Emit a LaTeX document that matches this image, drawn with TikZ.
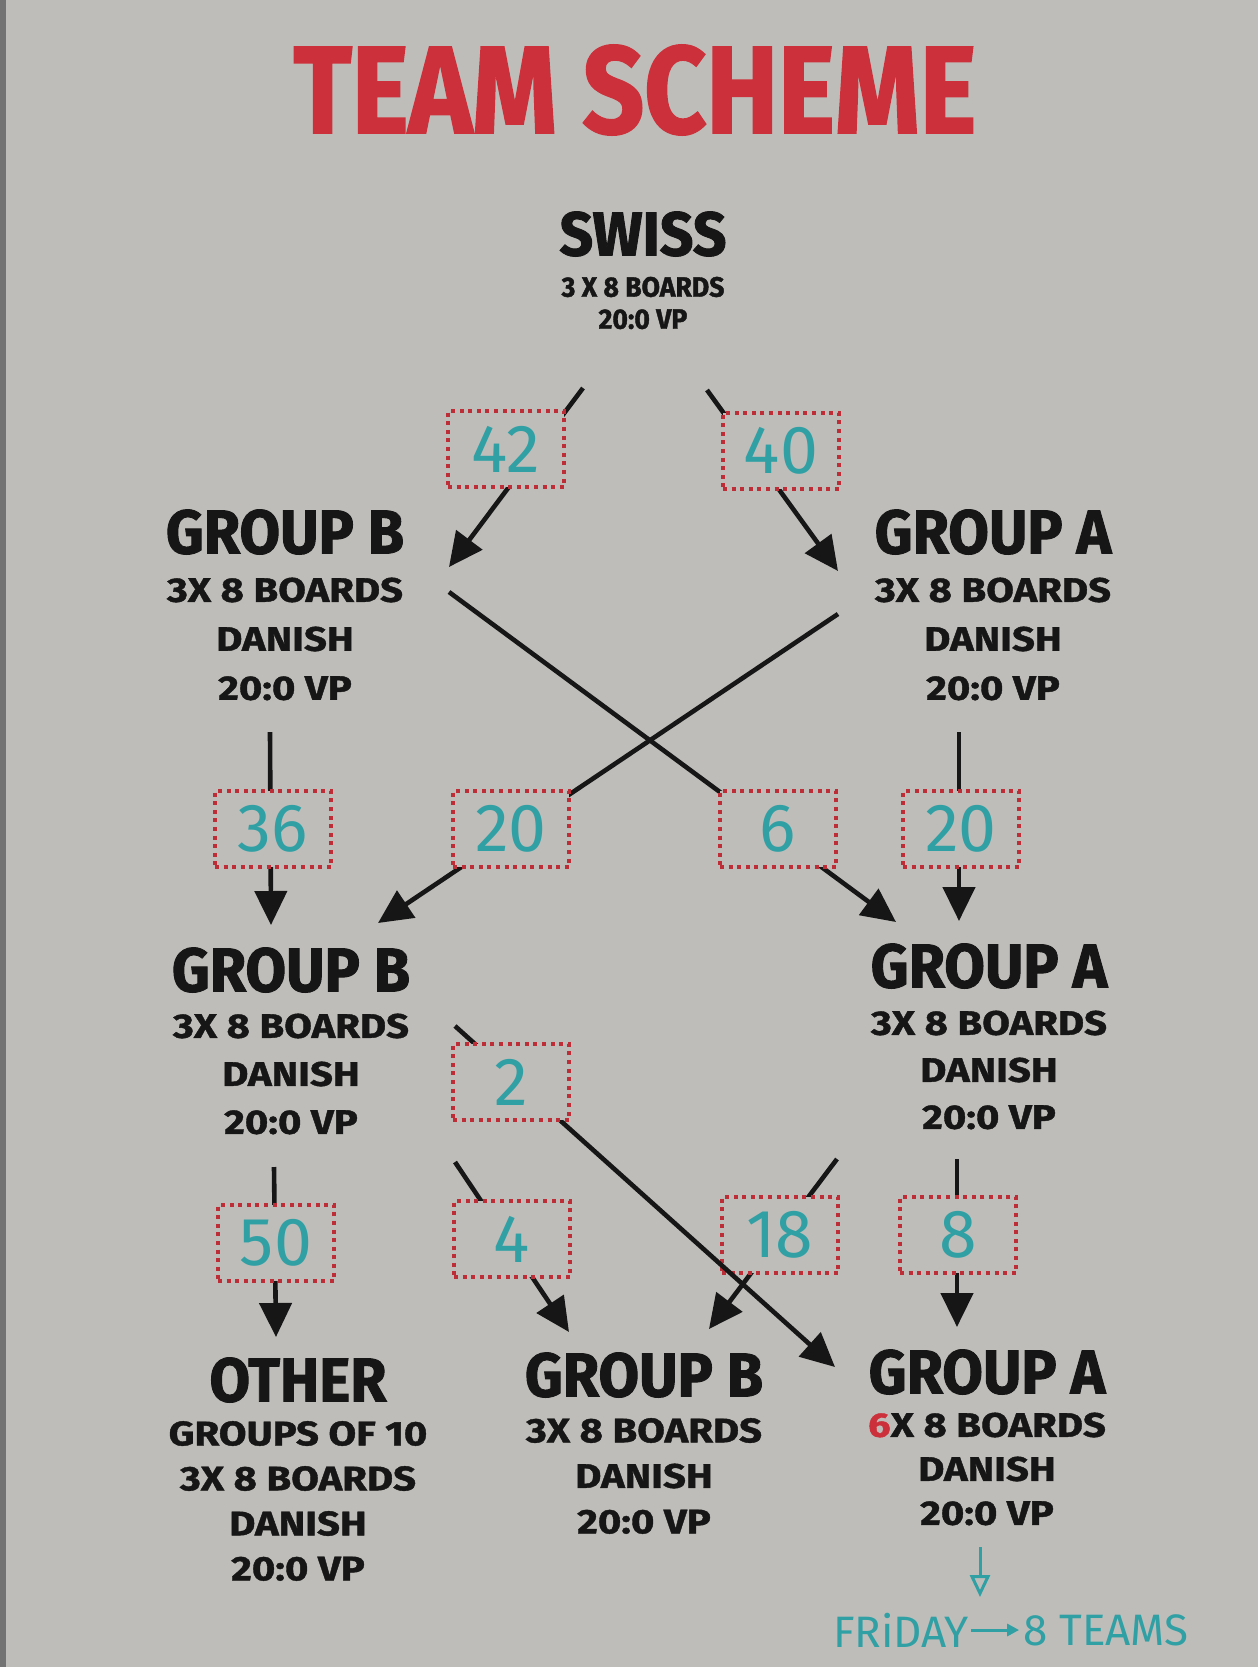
\documentclass[tikz,border=0pt]{standalone}
\usepackage{fontspec}
\usetikzlibrary{arrows.meta}
\newfontfamily\titlefont{Fira Sans}[FakeStretch=0.87, FakeBold=1.5]
\newfontfamily\headfont{Fira Sans}[FakeStretch=0.95, FakeBold=1.5]
\newfontfamily\infofont{Fira Sans}[FakeStretch=1.18, FakeBold=1.2]
\newfontfamily\handfont{Fira Sans}
\definecolor{paper}{RGB}{191,189,185}
\definecolor{ink}{RGB}{22,22,22}
\definecolor{titlered}{RGB}{204,48,58}
\definecolor{dotred}{RGB}{188,45,55}
\definecolor{marker}{RGB}{48,160,165}
\begin{document}
\begin{tikzpicture}[x=0.5pt, y=-0.5pt,
	heading/.style={font=\headfont\bfseries\fontsize{31}{31}\selectfont, text=ink, inner sep=0pt},
	info/.style={font=\infofont\bfseries\fontsize{17}{24.5}\selectfont, text=ink, align=center, inner sep=0pt},
	flow/.style={draw=ink, line width=2.3pt, -{Triangle[length=17pt, width=16pt]}},
	count/.style={draw=dotred, line width=2pt, dash pattern=on 2pt off 2.3pt, fill=paper,
		minimum width=58pt, minimum height=38pt, inner sep=0pt,
		font=\handfont\fontsize{34}{34}\selectfont, text=marker},
	pen/.style={draw=marker, line width=1.5pt}]
	\fill[paper] (0, 0) rectangle (1258, 1667);
	\fill[black!55] (0, 0) rectangle (6, 1667);
	\useasboundingbox (0, 0) rectangle (1258, 1667);

	\node[font=\titlefont\bfseries\fontsize{62}{62}\selectfont, text=titlered, inner sep=0pt] (title) at (635, 90) {TEAM SCHEME};

	\node[heading] (swiss) at (643, 234) {SWISS};
	\node[info, font=\headfont\bfseries\fontsize{14}{16}\selectfont] (swiss-info) at (643, 303) {3 X 8 BOARDS\\20:0 VP};

	\node[heading] (gb1) at (285, 532) {GROUP B};
	\node[info] (gb1-info) at (285, 639) {3X 8 BOARDS\\DANISH\\20:0 VP};
	\node[heading] (ga1) at (993, 532) {GROUP A};
	\node[info] (ga1-info) at (993, 639) {3X 8 BOARDS\\DANISH\\20:0 VP};

	\node[heading] (gb2) at (291, 970) {GROUP B};
	\node[info, font=\infofont\bfseries\fontsize{17}{24}\selectfont] (gb2-info) at (291, 1074) {3X 8 BOARDS\\DANISH\\20:0 VP};
	\node[heading] (ga2) at (989, 966) {GROUP A};
	\node[info, font=\infofont\bfseries\fontsize{17}{23.5}\selectfont] (ga2-info) at (989, 1070) {3X 8 BOARDS\\DANISH\\20:0 VP};

	\node[heading] (other) at (298, 1380) {OTHER};
	\node[info, font=\infofont\bfseries\fontsize{17}{22.5}\selectfont] (other-info) at (298, 1501) {GROUPS OF 10\\3X 8 BOARDS\\DANISH\\20:0 VP};
	\node[heading] (gb3) at (644, 1375) {GROUP B};
	\node[info, font=\infofont\bfseries\fontsize{17}{22.75}\selectfont] (gb3-info) at (644, 1476) {3X 8 BOARDS\\DANISH\\20:0 VP};
	\node[heading] (ga3) at (987, 1372) {GROUP A};
	\node[info, font=\infofont\bfseries\fontsize{17}{22}\selectfont] (ga3-info) at (987, 1469) {{\color{titlered}6}X 8 BOARDS\\DANISH\\20:0 VP};

	\coordinate (swiss-l) at (583, 388);
	\coordinate (swiss-r) at (707, 390);
	\coordinate (gb1-in) at (449, 567);
	\coordinate (ga1-in) at (838, 571);
	\coordinate (gb1-down) at (270, 732);
	\coordinate (gb1-cross) at (449, 592);
	\coordinate (ga1-down) at (959, 732);
	\coordinate (ga1-cross) at (838, 614);
	\coordinate (gb2-in) at (271, 925);
	\coordinate (gb2-cross) at (378, 923);
	\coordinate (ga2-in) at (959, 921);
	\coordinate (ga2-cross) at (896, 922);
	\coordinate (gb2-down) at (274, 1167);
	\coordinate (gb2-right) at (455, 1162);
	\coordinate (gb2-far) at (455, 1026);
	\coordinate (ga2-down) at (957, 1159);
	\coordinate (ga2-left) at (837, 1159);
	\coordinate (other-in) at (276, 1337);
	\coordinate (gb3-l) at (569, 1332);
	\coordinate (gb3-r) at (709, 1329);
	\coordinate (ga3-in) at (957, 1327);
	\coordinate (ga3-far) at (835, 1367);

	\draw[flow] (swiss-l) -- (gb1-in);
	\draw[flow] (swiss-r) -- (ga1-in);
	\draw[flow] (gb1-down) -- (gb2-in);
	\draw[flow] (gb1-cross) -- (ga2-cross);
	\draw[flow] (ga1-cross) -- (gb2-cross);
	\draw[flow] (ga1-down) -- (ga2-in);
	\draw[flow] (gb2-down) -- (other-in);
	\draw[flow] (gb2-right) -- (gb3-l);
	\draw[flow] (ga2-left) -- (gb3-r);
	\draw[flow] (ga2-down) -- (ga3-in);

	\node[count] (c42) at (506, 449) {42};
	\node[count] (c40) at (781, 451) {40};
	\node[count] (c36) at (273, 829) {36};
	\node[count] (c20l) at (511, 829) {20};
	\node[count] (c6) at (778, 829) {6};
	\node[count] (c20r) at (961, 829) {20};
	\node[count] (c50) at (276, 1243) {50};
	\node[count] (c4) at (512, 1239) {4};
	\node[count] (c18) at (780, 1235) {18};
	\node[count] (c8) at (958, 1235) {8};

	\draw[flow] (gb2-far) -- (ga3-far);
	\node[count] (c2) at (511, 1082) {2};

	\coordinate (ga3-note) at (980, 1547);
	\coordinate (friday-top) at (980, 1597);
	\draw[pen, -{Triangle[open, length=11pt, width=10pt]}] (ga3-note) -- (friday-top);
	\node[font=\handfont\fontsize{22}{22}\selectfont, text=marker, inner sep=0pt] (friday) at (901, 1630) {FRiDAY};
	\node[font=\handfont\fontsize{22}{22}\selectfont, text=marker, inner sep=0pt] (teams) at (1106, 1630) {8 TEAMS};
	\draw[pen, -{Triangle[length=6pt, width=6pt]}, shorten <=1pt, shorten >=2pt] (friday) -- (teams);
\end{tikzpicture}
\end{document}
